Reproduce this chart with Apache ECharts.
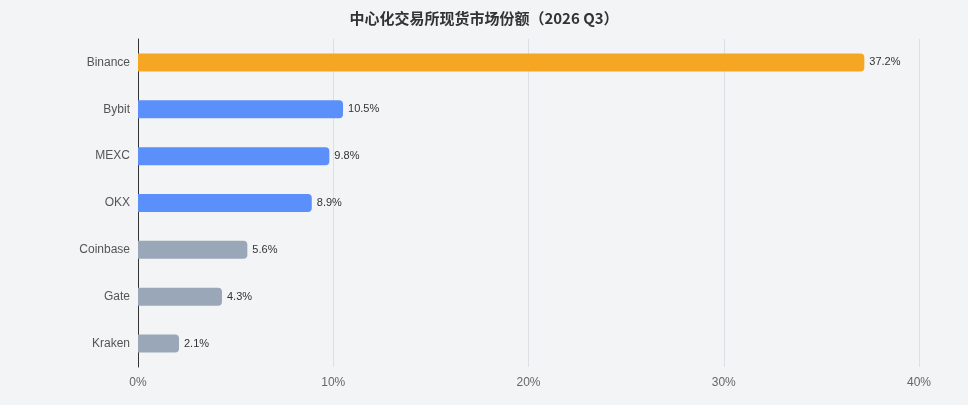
<!DOCTYPE html>
<html lang="zh">
<head>
<meta charset="UTF-8">
<title>中心化交易所现货市场份额</title>
<script src="https://cdn.jsdelivr.net/npm/echarts@6/dist/echarts.min.js"></script>
</head>
<body style="margin:0;background:#f3f4f6">
<div id="container" style="width:968px;height:405px"></div>
<script type="text/javascript">
    // 交易所及份额（%），从上到下
    var exchanges = ['Binance', 'Bybit', 'MEXC', 'OKX', 'Coinbase', 'Gate', 'Kraken'];
    var shares = [37.2, 10.5, 9.8, 8.9, 5.6, 4.3, 2.1];
    var tiers = ['top', 'mid', 'mid', 'mid', 'low', 'low', 'low'];
    var tierColor = { top: '#f5a623', mid: '#5b8ff9', low: '#9aa7b8' };

    var myChart = echarts.init(document.getElementById('container'));

    var data = shares.map(function (v, i) {
        return { value: v, itemStyle: { color: tierColor[tiers[i]] } };
    });

    var option = {
        backgroundColor: '#f3f4f6',
        title: {
            text: '中心化交易所现货市场份额（2026 Q3）',
            left: 'center',
            top: 6,
            textStyle: { fontSize: 15, fontWeight: 'bold', color: '#333', fontFamily: 'Noto Sans CJK SC' }
        },
        grid: { left: 138, right: 49, top: 39, bottom: 38, containLabel: false },
        xAxis: {
            type: 'value',
            min: 0,
            max: 40,
            interval: 10,
            axisLine: { show: false },
            axisTick: { show: false },
            axisLabel: { formatter: '{value}%', color: '#666', fontSize: 12, margin: 10 },
            splitLine: { lineStyle: { color: '#dcdfe4' } }
        },
        yAxis: {
            type: 'category',
            inverse: true,
            data: exchanges,
            axisLine: { lineStyle: { color: '#333' } },
            axisTick: { show: false },
            axisLabel: { color: '#555', fontSize: 12, margin: 8 }
        },
        series: [{
            type: 'bar',
            data: data,
            barWidth: 18,
            itemStyle: { borderRadius: [0, 4, 4, 0] },
            label: {
                show: true,
                position: 'right',
                distance: 5,
                formatter: '{c}%',
                color: '#333',
                fontSize: 11
            }
        }]
    };
    myChart.setOption(option);
</script>
</body>
</html>
